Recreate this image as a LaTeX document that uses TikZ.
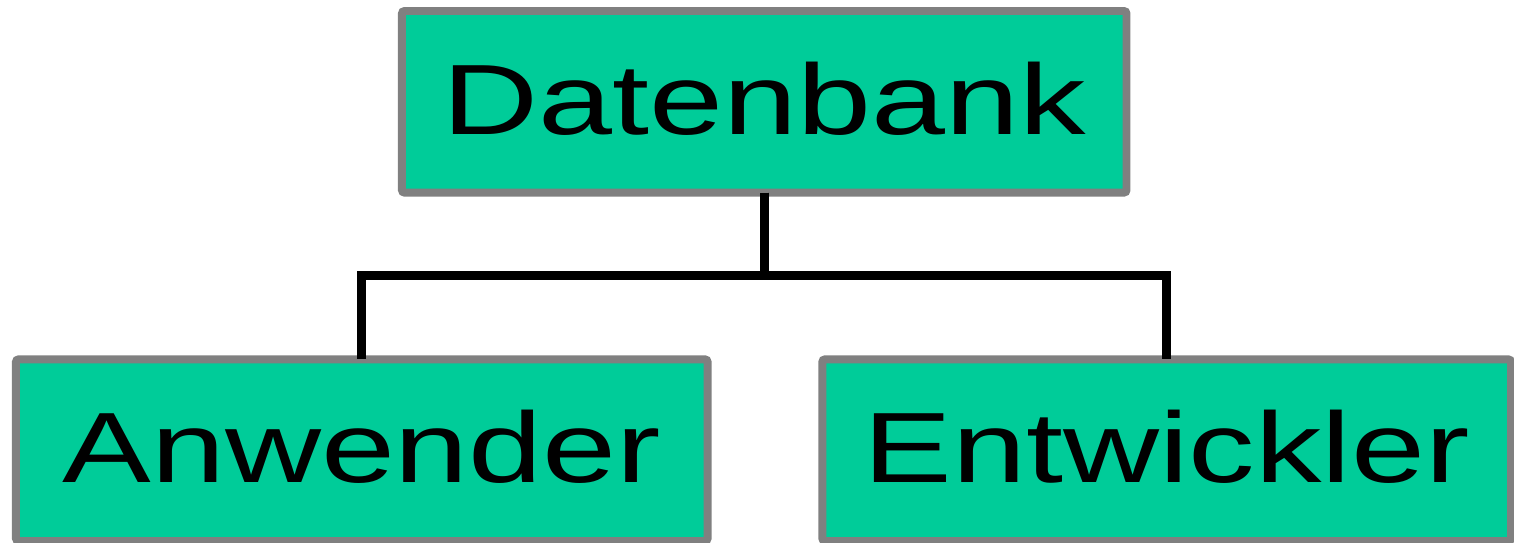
\documentclass[tikz,border=0pt]{standalone}
\usepackage{fontspec}
\usepackage{color}
\usepackage{tikz}
\usepackage{tikz-qtree}

\newfontfamily\boxfont[FakeStretch=1.33]{Liberation Sans}
\definecolor{boxgreen}{HTML}{00CC99}
\definecolor{boxgray}{HTML}{808080}

\tikzset{
  box/.style={draw=boxgray, fill=boxgreen, line width=4.5pt, rounded corners=1.5pt,
    anchor=north, outer sep=0pt, inner sep=0pt, minimum height=3.64cm,
    text height=1.47cm, text depth=0.16cm, font=\boxfont\fontsize{57}{60}\selectfont},
  edge from parent/.style={draw, black, line width=5pt,
    edge from parent path={(\tikzparentnode.south) -- +(0,-1.66) -| (\tikzchildnode.north)}}
}

\begin{document}
\begin{tikzpicture}[level distance=6.98cm, sibling distance=2.14cm]
        \Tree [.\node[box, minimum width=14.52cm](db){Datenbank};
                   \node[box, minimum width=13.86cm](an){Anwender};
                   \node[box, minimum width=13.8cm](ent){Entwickler};
              ]
        % page frame round the tree
        \pgfresetboundingbox
        \coordinate (nw) at ([yshift=0.22cm]db.north);
        \coordinate (se) at ([yshift=-0.04cm]an.south);
        \useasboundingbox ([xshift=-0.32cm]an.west |- nw)
                rectangle ([xshift=0.06cm]ent.east |- se);
\end{tikzpicture}
\end{document}
